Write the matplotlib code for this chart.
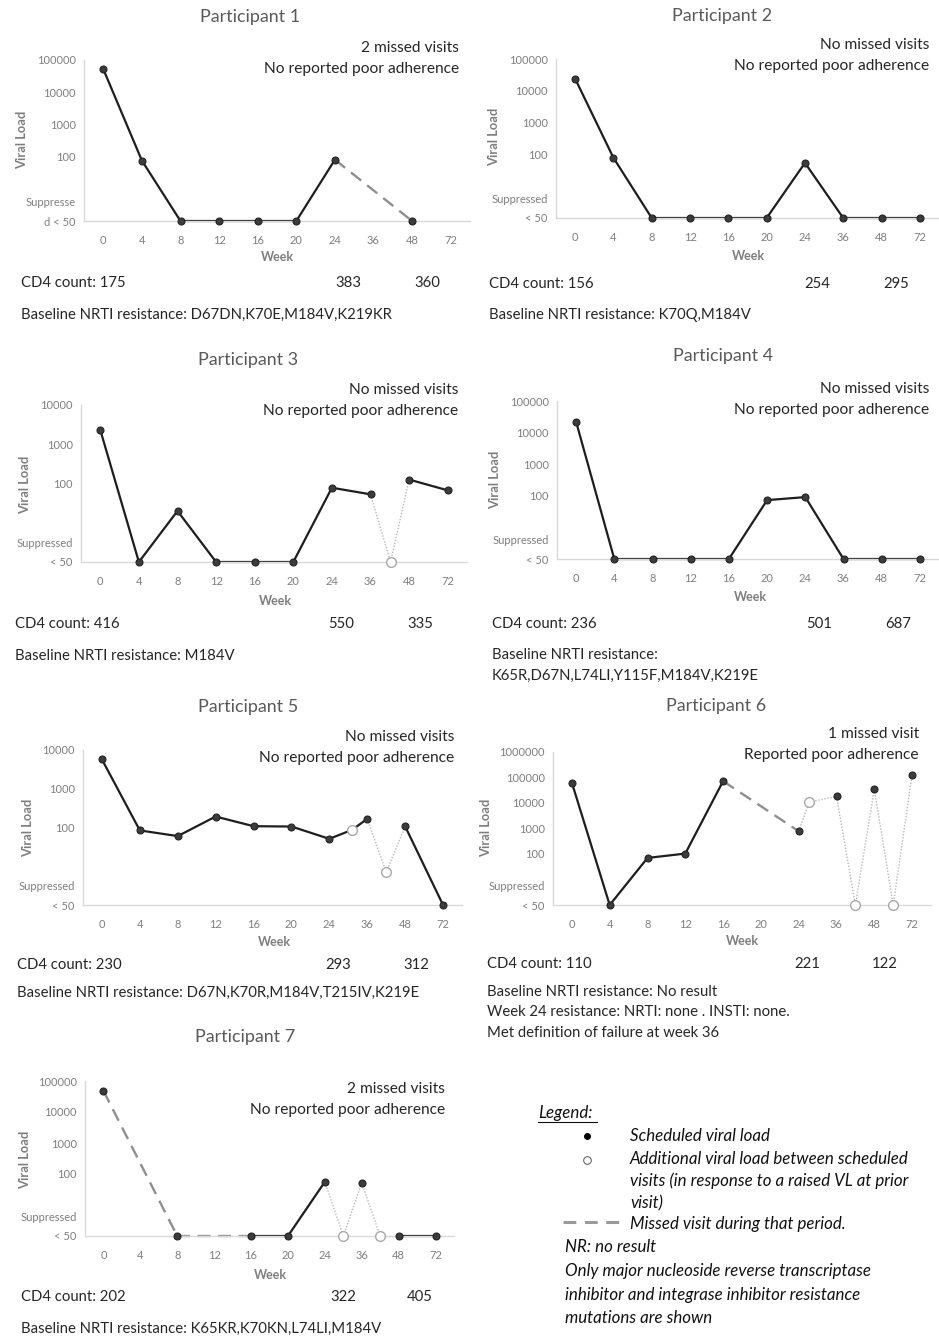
import matplotlib
matplotlib.use("Agg")
import matplotlib.pyplot as plt

plt.rcParams['font.family'] = ['Lato', 'DejaVu Sans']

W, H = 939, 1337

# --- data -------------------------------------------------------------
weeks = ['0', '4', '8', '12', '16', '20', '24', '36', '48', '72']
SUP = 1  # "Suppressed < 50" is drawn at the bottom of the log axis

# x = position on the week axis (category index, fractions = extra visits)
p1_x = [0, 1, 2, 3, 4, 5, 6, 8]
p1_vl = [52000, 75, SUP, SUP, SUP, SUP, 80, SUP]
p1_seg = ['-', '-', '-', '-', '-', '-', '--']
p1_open = []

p2_x = [0, 1, 2, 3, 4, 5, 6, 7, 8, 9]
p2_vl = [24000, 78, SUP, SUP, SUP, SUP, 54, SUP, SUP, SUP]
p2_seg = ['-'] * 9
p2_open = []

p3_x = [0, 1, 2, 3, 4, 5, 6, 7, 7.52, 8, 9]
p3_vl = [2300, SUP, 20, SUP, SUP, SUP, 78, 53, SUP, 126, 67]
p3_seg = ['-'] * 7 + [':', ':', '-']
p3_open = [8]

p4_x = [0, 1, 2, 3, 4, 5, 6, 7, 8, 9]
p4_vl = [22000, SUP, SUP, SUP, SUP, 73, 91, SUP, SUP, SUP]
p4_seg = ['-'] * 9
p4_open = []

p5_x = [0, 1, 2, 3, 4, 5, 6, 6.6, 7, 7.5, 8, 9]
p5_vl = [5700, 84, 60, 192, 108, 106, 51, 87, 167, 7, 107, SUP]
p5_seg = ['-'] * 8 + [':', ':', '-']
p5_open = [7, 9]

p6_x = [0, 1, 2, 3, 4, 6, 6.28, 7, 7.5, 8, 8.5, 9]
p6_vl = [62000, SUP, 70, 104, 72000, 780, 11000, 18000, SUP, 35000, SUP, 130000]
p6_seg = ['-', '-', '-', '-', '--', ':', ':', ':', ':', ':', ':']
p6_open = [6, 8, 10]

p7_x = [0, 2, 4, 5, 6, 6.5, 7, 7.5, 8, 9]
p7_vl = [48000, SUP, SUP, SUP, 56, SUP, 52, SUP, SUP, SUP]
p7_seg = ['--', '--', '-', '-', ':', ':', ':', ':', '-']
p7_open = [5, 7]

titles = ['Participant %d' % i for i in range(1, 8)]
visits = ['2 missed visits', 'No missed visits', 'No missed visits', 'No missed visits',
          'No missed visits', '1 missed visit', '2 missed visits']
adherence = ['No reported poor adherence'] * 5 + ['Reported poor adherence', 'No reported poor adherence']
cd4_base = [175, 156, 416, 236, 230, 110, 202]
cd4_24 = [383, 254, 550, 501, 293, 221, 322]
cd4_48 = [360, 295, 335, 687, 312, 122, 405]
resistance = [
    'Baseline NRTI resistance: D67DN,K70E,M184V,K219KR',
    'Baseline NRTI resistance: K70Q,M184V',
    'Baseline NRTI resistance: M184V',
    'Baseline NRTI resistance:\nK65R,D67N,L74LI,Y115F,M184V,K219E',
    'Baseline NRTI resistance: D67N,K70R,M184V,T215IV,K219E',
    'Baseline NRTI resistance: No result\nWeek 24 resistance: NRTI: none . INSTI: none.\nMet definition of failure at week 36',
    'Baseline NRTI resistance: K65KR,K70KN,L74LI,M184V',
]
top_vl = [1e5, 1e5, 1e4, 1e5, 1e4, 1e6, 1e5]
sup_top = ['Suppresse'] + ['Suppressed'] * 6
sup_bottom = ['d < 50'] + ['< 50'] * 6

series = [(p1_x, p1_vl, p1_seg, p1_open), (p2_x, p2_vl, p2_seg, p2_open),
          (p3_x, p3_vl, p3_seg, p3_open), (p4_x, p4_vl, p4_seg, p4_open),
          (p5_x, p5_vl, p5_seg, p5_open), (p6_x, p6_vl, p6_seg, p6_open),
          (p7_x, p7_vl, p7_seg, p7_open)]

# --- layout (pixels) --------------------------------------------------
layout = [
    dict(ax=(84, 470, 60, 221), title=(250, 17), ann=(459, 48), vl=(22, 140), wk=(277, 257),
         cd4=(21, 283, 348, 427), res=(21, 315)),
    dict(ax=(556, 939, 59, 218), title=(722, 16), ann=(929, 45), vl=(494, 137), wk=(748, 256),
         cd4=(489, 284, 817, 896), res=(489, 315)),
    dict(ax=(81, 467, 405, 562), title=(248, 360), ann=(458, 390), vl=(25, 485), wk=(275, 601),
         cd4=(15, 624, 341, 420), res=(15, 656)),
    dict(ax=(557, 939, 401, 559), title=(723, 356), ann=(929, 389), vl=(495, 480), wk=(750, 597),
         cd4=(492, 624, 819, 898), res=(492, 655)),
    dict(ax=(83, 462, 750, 905), title=(248, 707), ann=(454, 737), vl=(28, 828), wk=(274, 942),
         cd4=(17, 965, 338, 416), res=(17, 993)),
    dict(ax=(553, 931, 752, 905), title=(716, 706), ann=(919, 734), vl=(486, 828), wk=(742, 941),
         cd4=(487, 964, 807, 885), res=(487, 992)),
    dict(ax=(85, 454, 1081, 1236), title=(245, 1037), ann=(445, 1089), vl=(25, 1160), wk=(270, 1275),
         cd4=(21, 1297, 343, 420), res=(21, 1329)),
]

seg_style = {
    '-': dict(color='#1e1e1e', lw=1.6, ls='-'),
    '--': dict(color='#8f8f8f', lw=1.7, ls=(0, (5.5, 3.2))),
    ':': dict(color='#b8b8b8', lw=1.0, ls=(0, (1, 1.2))),
}
txt = '#262626'


def fx(x):
    return x / W


def fy(y):
    return 1 - y / H


fig = plt.figure(figsize=(W / 100, H / 100), dpi=100)

for i, (xs, vls, segs, opens) in enumerate(series):
    lay = layout[i]
    l, r, t, b = lay['ax']
    ax = fig.add_axes([fx(l), fy(b), (r - l) / W, (b - t) / H])
    ax.set_yscale('log')
    ax.set_xlim(-0.5, 9.5)
    ax.set_ylim(1, top_vl[i])

    for k, st in enumerate(segs):
        ax.plot([xs[k], xs[k + 1]], [vls[k], vls[k + 1]], clip_on=False,
                solid_capstyle='butt', zorder=2, **seg_style[st])
    sx = [x for k, x in enumerate(xs) if k not in opens]
    sy = [v for k, v in enumerate(vls) if k not in opens]
    ax.plot(sx, sy, 'o', ms=5, mfc='#3c3c3c', mec='#222222', mew=0.8,
            ls='none', clip_on=False, zorder=3)
    if opens:
        ox = [xs[k] for k in opens]
        oy = [vls[k] for k in opens]
        ax.plot(ox, oy, 'o', ms=7, mfc='white', mec='#a8a8a8', mew=1.0,
                ls='none', clip_on=False, zorder=3)

    # axes styling
    yt = [1] + [10 ** p for p in range(2, 7) if 10 ** p <= top_vl[i]]
    ax.set_yticks(yt)
    ax.set_yticklabels([sup_bottom[i]] + ['%d' % v for v in yt[1:]])
    ax.annotate(sup_top[i], xy=(0, 1), xycoords=ax.get_yaxis_transform(),
                xytext=(-6, 13), textcoords='offset points', ha='right', va='center',
                fontsize=8, color='#7f7f7f')
    ax.minorticks_off()
    ax.set_xticks(range(len(weeks)))
    ax.set_xticklabels(weeks)
    ax.tick_params(length=0, labelsize=8, labelcolor='#7f7f7f', pad=6)
    ax.tick_params(axis='x', pad=10)
    for s in ['top', 'right']:
        ax.spines[s].set_visible(False)
    for s in ['left', 'bottom']:
        ax.spines[s].set_color('#d9d9d9')
        ax.spines[s].set_linewidth(1.0)
    ax.patch.set_alpha(0)

    # texts
    fig.text(fx(lay['title'][0]), fy(lay['title'][1]), titles[i], ha='center', va='center',
             fontsize=12.9, color='#595959')
    ax_, ay_ = lay['ann']
    fig.text(fx(ax_), fy(ay_), visits[i], ha='right', va='center', fontsize=11.2, color=txt)
    fig.text(fx(ax_), fy(ay_ + 21), adherence[i], ha='right', va='center', fontsize=11.2,
             color=txt)
    fig.text(fx(lay['vl'][0]), fy(lay['vl'][1]), 'Viral Load', rotation=90, ha='center',
             va='center', fontsize=9.3, fontweight='bold', color='#7f7f7f')
    fig.text(fx(lay['wk'][0]), fy(lay['wk'][1]), 'Week', ha='center', va='center',
             fontsize=9, fontweight='bold', color='#7f7f7f')
    cx, cy, c24, c48 = lay['cd4']
    fig.text(fx(cx), fy(cy), 'CD4 count: %d' % cd4_base[i], ha='left', va='center',
             fontsize=10.7, color=txt)
    fig.text(fx(c24), fy(cy), str(cd4_24[i]), ha='center', va='center', fontsize=10.7,
             color=txt)
    fig.text(fx(c48), fy(cy), str(cd4_48[i]), ha='center', va='center', fontsize=10.7,
             color=txt)
    for j, line in enumerate(resistance[i].split('\n')):
        fig.text(fx(lay['res'][0]), fy(lay['res'][1] + j * 20.5), line, ha='left',
                 va='center', fontsize=10.75, color=txt)

# --- legend block -----------------------------------------------------
lg = '#111111'
lg_size = 12.2
fig.text(fx(538), fy(1113), 'Legend:', ha='left', va='center', fontsize=lg_size,
         style='italic', color=lg)
fig.add_artist(plt.Line2D([fx(538), fx(597)], [fy(1122), fy(1122)], color=lg, lw=0.8))
fig.add_artist(plt.Line2D([fx(587)], [fy(1136)], marker='o', ms=4, mfc='black', mec='black'))
fig.add_artist(plt.Line2D([fx(587)], [fy(1160)], marker='o', ms=5.5, mfc='white',
                          mec='#555555', mew=0.7))
fig.add_artist(plt.Line2D([fx(563), fx(621)], [fy(1222), fy(1222)], color='#9a9a9a', lw=2.2,
                          ls=(0, (4.2, 2.8))))
legend_lines = [
    (630, 1136, 'Scheduled viral load'),
    (630, 1159, 'Additional viral load between scheduled'),
    (630, 1181, 'visits (in response to a raised VL at prior'),
    (630, 1203, 'visit)'),
    (630, 1224, 'Missed visit during that period.'),
    (565, 1247, 'NR: no result'),
    (565, 1271, 'Only major nucleoside reverse transcriptase'),
    (565, 1295, 'inhibitor and integrase inhibitor resistance'),
    (565, 1318, 'mutations are shown'),
]
for x, y, s in legend_lines:
    fig.text(fx(x), fy(y), s, ha='left', va='center', fontsize=lg_size, style='italic',
             color=lg)

fig.savefig('out.png', dpi=100, facecolor='white')
